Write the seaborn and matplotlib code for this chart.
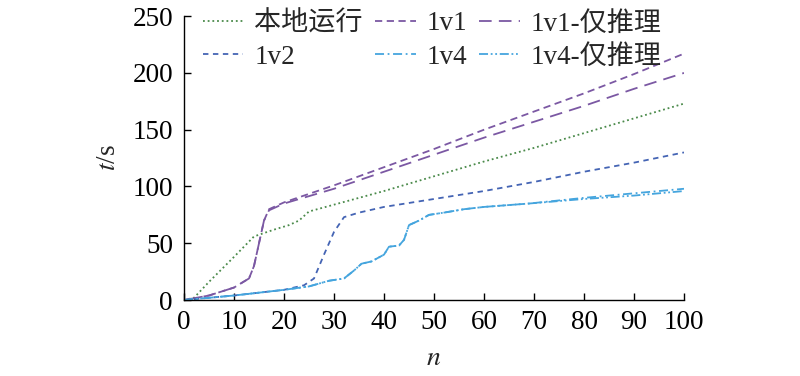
import pandas as pd
import matplotlib.pyplot as plt
import seaborn as sns

# data
n_local = [0, 2, 5, 10, 14, 18, 21, 23, 25, 30, 40, 50, 60, 70, 80, 90, 100]
t_local = [0, 2, 16, 38, 56, 62, 66, 70, 78, 84, 96, 109, 122, 134, 147, 160, 173]

n_1v1 = [0, 5, 10, 13, 14, 15, 16, 17, 20, 30, 40, 50, 60, 70, 80, 90, 100]
t_1v1 = [0, 4, 11, 19, 30, 50, 70, 80, 86, 101, 117, 133, 150, 166, 182, 199, 217]

n_1v1_inf = [0, 5, 10, 13, 14, 15, 16, 17, 20, 30, 40, 50, 60, 70, 80, 90, 100]
t_1v1_inf = [0, 4, 11, 19, 30, 50, 70, 79, 85, 98, 113, 128, 143, 157, 171, 186, 200]

n_1v2 = [0, 10, 20, 24, 26, 28, 30, 32, 35, 40, 50, 60, 70, 80, 90, 100]
t_1v2 = [0, 4, 9, 13, 19, 40, 60, 73, 77, 82, 89, 96, 104, 113, 121, 130]

n_1v4 = [0, 10, 20, 25, 29, 32, 34, 35.5, 37.5, 40, 41, 43, 44, 45, 47, 49, 52, 56, 60, 69, 80, 90, 100]
t_1v4 = [0, 4, 9, 12, 17, 19, 26, 32, 34, 40, 47, 48, 53, 66, 70, 75, 77, 80, 82, 85, 90, 94, 98]

n_1v4_inf = [0, 10, 20, 25, 29, 32, 34, 35.5, 37.5, 40, 41, 43, 44, 45, 47, 49, 52, 56, 60, 69, 80, 90, 100]
t_1v4_inf = [0, 4, 9, 12, 17, 19, 26, 32, 34, 40, 47, 48, 53, 66, 70, 75, 77, 80, 82, 85, 89, 92, 96]

series = [
    ('本地运行', n_local, t_local, '#4a8a4a', (0, (1, 1.6))),
    ('1v1', n_1v1, t_1v1, '#7b58a3', (0, (4, 2.5))),
    ('1v1-仅推理', n_1v1_inf, t_1v1_inf, '#7b58a3', (0, (7, 4))),
    ('1v2', n_1v2, t_1v2, '#4464b4', (0, (3, 2.5))),
    ('1v4', n_1v4, t_1v4, '#45a5de', (0, (5, 2, 1, 2))),
    ('1v4-仅推理', n_1v4_inf, t_1v4_inf, '#45a5de', (0, (5, 1.5, 1, 1.5, 1, 1.5))),
]

sns.set_style('ticks')
plt.rcParams['font.family'] = ['Liberation Serif', 'Noto Sans CJK SC']
plt.rcParams['mathtext.fontset'] = 'stix'
plt.rcParams['xtick.direction'] = 'in'
plt.rcParams['ytick.direction'] = 'in'

fig = plt.figure(figsize=(8, 3.76), dpi=100)
ax = fig.add_axes([0.23, 0.202, 0.625, 0.755])

for label, xs, ys, color, ls in series:
    df = pd.DataFrame({'n': xs, 't': ys})
    sns.lineplot(data=df, x='n', y='t', ax=ax, color=color, linewidth=1.3,
                 linestyle=ls, label=label)

handles, labels = ax.get_legend_handles_labels()
h = dict(zip(labels, handles))
order = ['本地运行', '1v2', '1v1', '1v4', '1v1-仅推理', '1v4-仅推理']
ax.legend([h[k] for k in order], order, ncol=3, loc='upper left',
          bbox_to_anchor=(0.005, 1.075), frameon=False, fontsize=19.5,
          handlelength=1.5, handletextpad=0.4, columnspacing=0.45,
          labelspacing=0.3, borderaxespad=0.2)

ax.set_xlim(0, 100)
ax.set_ylim(0, 250)
ax.set_xticks(range(0, 101, 10))
ax.set_yticks(range(0, 251, 50))
ax.tick_params(labelsize=19.5, length=5, width=1, colors='black')
ax.tick_params(axis='y', pad=8)
ax.tick_params(axis='x', pad=7)
ax.set_xlabel('$n$', fontsize=20, labelpad=8)
ax.set_ylabel('$t$/s', fontsize=19.5, labelpad=8)
sns.despine(ax=ax)
for s in ['left', 'bottom']:
    ax.spines[s].set_color('black')
    ax.spines[s].set_linewidth(1)

fig.savefig('out.png', dpi=100)
